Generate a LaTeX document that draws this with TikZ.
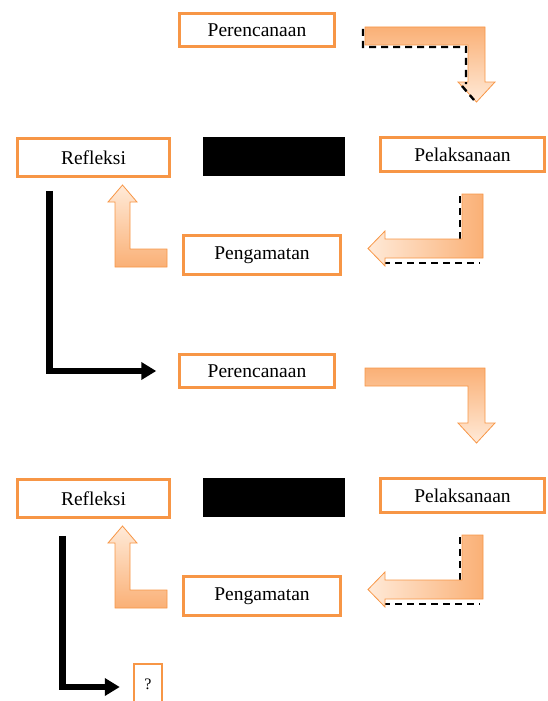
\documentclass[tikz,border=0pt]{standalone}
\usepackage{fontspec}
\setmainfont{Liberation Serif}
\usetikzlibrary{arrows.meta}
\definecolor{boxline}{RGB}{247,150,70}
\definecolor{arrdark}{RGB}{250,176,118}
\definecolor{arrlight}{RGB}{255,234,216}
\tikzset{
  stage/.style={rectangle, draw=boxline, line width=2.5pt, fill=white, inner sep=0pt,
    font=\fontsize{19.5}{21}\selectfont},
  hidden/.style={rectangle, fill=black, inner sep=0pt, minimum width=142pt, minimum height=39pt},
  blockarr/.style={draw=boxline, line width=0.8pt},
  shadowline/.style={draw=black, line width=2.4pt, dash pattern=on 7pt off 5pt},
  backarrow/.style={draw=black, line width=6.5pt, -{Triangle[length=15pt,width=17pt]}}
}

\begin{document}
\begin{tikzpicture}[x=1pt,y=-1pt]
\useasboundingbox (0,0) rectangle (548,701);

\foreach \i/\dy in {1/0,2/341}
{
  \begin{scope}[yshift=-\dy pt]
    \node[stage, minimum width=155pt, minimum height=33pt] (per\i) at (257,30) {Perencanaan};
    \node[stage, minimum width=152pt, minimum height=38pt] (ref\i) at (93.5,157.5) {Refleksi};
    \node[hidden] (blk\i) at (274,156) {};
    \node[stage, minimum width=164pt, minimum height=34pt] (pel\i) at (462.5,154.5) {Pelaksanaan};
    \node[stage, minimum width=157pt, minimum height=39pt] (pen\i) at (262,255) {Pengamatan};

    % dashed shadow behind the left arrow
    \draw[shadowline] (460,196) -- (460,241) (383,263) -- (480,263);
    % down arrow
    \path[blockarr, top color=arrdark, bottom color=arrlight]
      (365,27) -- (485,27) -- (485,82) -- (495,82) -- (476.5,102) -- (458,82)
      -- (468,82) -- (468,45) -- (365,45) -- cycle;
    % left arrow
    \path[blockarr, left color=arrlight, right color=arrdark]
      (483,194) -- (483,258) -- (385,258) -- (385,266) -- (368,248.5) -- (385,231)
      -- (385,239) -- (462,239) -- (462,194) -- cycle;
    % up arrow
    \path[blockarr, top color=arrlight, bottom color=arrdark]
      (167,249) -- (167,267) -- (115,267) -- (115,202) -- (108,202) -- (122.5,185)
      -- (137,202) -- (130,202) -- (130,249) -- cycle;
  \end{scope}
}

% dashes under the first down arrow
\draw[shadowline] (363,29) -- (363,47) -- (466,47) -- (466,84) (462,86) -- (474,100);

\node[stage, minimum width=28pt, minimum height=40pt, font=\fontsize{16}{18}\selectfont] (q) at (148,684) {?};

\draw[backarrow] ([xshift=33pt,yshift=-13pt]ref1.south west) |- ([xshift=-22pt]per2.west);
\draw[backarrow] ([xshift=46pt,yshift=-17pt]ref2.south west) |- ([xshift=-13pt,yshift=-3pt]q.west);

\end{tikzpicture}
\end{document}
